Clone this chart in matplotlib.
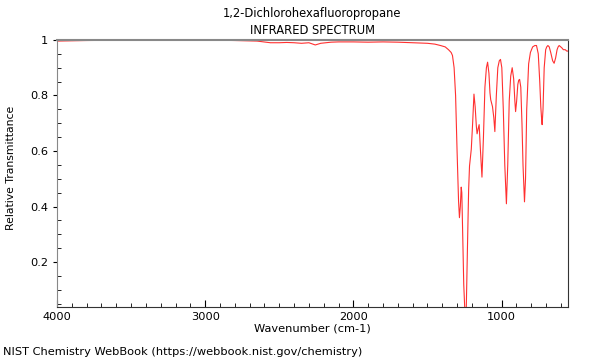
import numpy as np
import matplotlib
matplotlib.use('Agg')
import matplotlib.pyplot as plt
from matplotlib.ticker import MultipleLocator

# Spectrum points (wavenumber cm-1, transmittance)
wavenumber = [4000, 3800, 3600, 3400, 3200, 3000, 2800, 2650, 2560, 2500, 2450,
              2400, 2350, 2300, 2257, 2220, 2150, 2100, 2000, 1900, 1800,
              1700, 1600, 1500, 1450, 1412, 1380, 1358, 1340, 1331, 1320,
              1310, 1300, 1290, 1284, 1278, 1272, 1268, 1262, 1255, 1248,
              1243, 1238, 1230, 1222, 1216, 1204, 1195, 1186, 1178, 1170,
              1165, 1158, 1151, 1142, 1132, 1122, 1112, 1102, 1094, 1085,
              1078, 1073, 1061, 1052, 1045, 1035, 1025, 1015, 1007, 998,
              988, 978, 967, 958, 948, 938, 928, 918, 910, 905, 898, 890,
              884, 878, 870, 862, 855, 845, 838, 830, 817, 805, 790, 775,
              764, 752, 742, 735, 730, 726, 720, 712, 702, 695, 687, 678,
              668, 655, 645, 635, 625, 618, 611, 600, 590, 583, 570, 560, 550]
transmittance = [0.996, 0.998, 0.999, 1.0, 1.0, 1.0, 0.998, 0.996, 0.99, 0.99,
                 0.991, 0.99, 0.988, 0.99, 0.982, 0.988, 0.992, 0.993, 0.993,
                 0.992, 0.993, 0.992, 0.99, 0.988, 0.985, 0.98, 0.975, 0.965,
                 0.955, 0.944, 0.9, 0.8, 0.6, 0.42, 0.36, 0.4, 0.47, 0.45,
                 0.3, 0.12, 0.03, 0.01, 0.03, 0.25, 0.46, 0.546, 0.607, 0.7,
                 0.805, 0.76, 0.69, 0.662, 0.68, 0.695, 0.6, 0.506, 0.65, 0.83,
                 0.9, 0.92, 0.88, 0.81, 0.785, 0.76, 0.72, 0.67, 0.8, 0.9,
                 0.925, 0.93, 0.9, 0.75, 0.55, 0.41, 0.55, 0.78, 0.87, 0.9,
                 0.86, 0.78, 0.742, 0.78, 0.84, 0.855, 0.858, 0.83, 0.7, 0.55,
                 0.417, 0.5, 0.75, 0.914, 0.955, 0.975, 0.98, 0.98, 0.95, 0.85,
                 0.76, 0.72, 0.695, 0.75, 0.9, 0.965, 0.975, 0.98, 0.975, 0.955,
                 0.925, 0.916, 0.935, 0.965, 0.975, 0.98, 0.975, 0.97, 0.965,
                 0.965, 0.96, 0.96]

fig = plt.figure(figsize=(6, 3.6), dpi=100)
ax = fig.add_axes([0.095, 0.147, 0.852, 0.742])

ax.plot(wavenumber, transmittance, color='#ff3030', linewidth=0.8)

ax.set_xlim(4000, 550)
ax.set_ylim(0.038, 1.0)

ax.xaxis.set_major_locator(MultipleLocator(1000))
ax.xaxis.set_minor_locator(MultipleLocator(100))
ax.yaxis.set_minor_locator(MultipleLocator(0.05))
ax.set_yticks([0.2, 0.4, 0.6, 0.8, 1.0])
ax.set_yticklabels(['0.2', '0.4', '0.6', '0.8', '1'])

ax.tick_params(axis='x', which='major', direction='in', length=5, labelsize=8.2)
ax.tick_params(axis='x', which='minor', direction='in', length=3)
ax.tick_params(axis='y', which='major', direction='out', length=3, labelsize=8.2)
ax.tick_params(axis='y', which='minor', direction='in', length=3)

for side in ['top', 'left']:
    ax.spines[side].set_color('#888888')
ax.spines['top'].set_linewidth(1.5)
ax.spines['bottom'].set_color('#333333')
ax.spines['right'].set_color('#333333')

ax.set_xlabel('Wavenumber (cm-1)', fontsize=8.2, labelpad=1)
fig.text(0.018, 0.533, 'Relative Transmittance', rotation=90, ha='center', va='center',
         fontsize=7.8)

fig.text(0.52, 0.962, '1,2-Dichlorohexafluoropropane', ha='center', va='center', fontsize=8.3)
fig.text(0.52, 0.915, 'INFRARED SPECTRUM', ha='center', va='center', fontsize=8.3)
fig.text(0.005, 0.022, 'NIST Chemistry WebBook (https://webbook.nist.gov/chemistry)',
         ha='left', va='center', fontsize=8.2)

fig.savefig('out.png', dpi=100)
